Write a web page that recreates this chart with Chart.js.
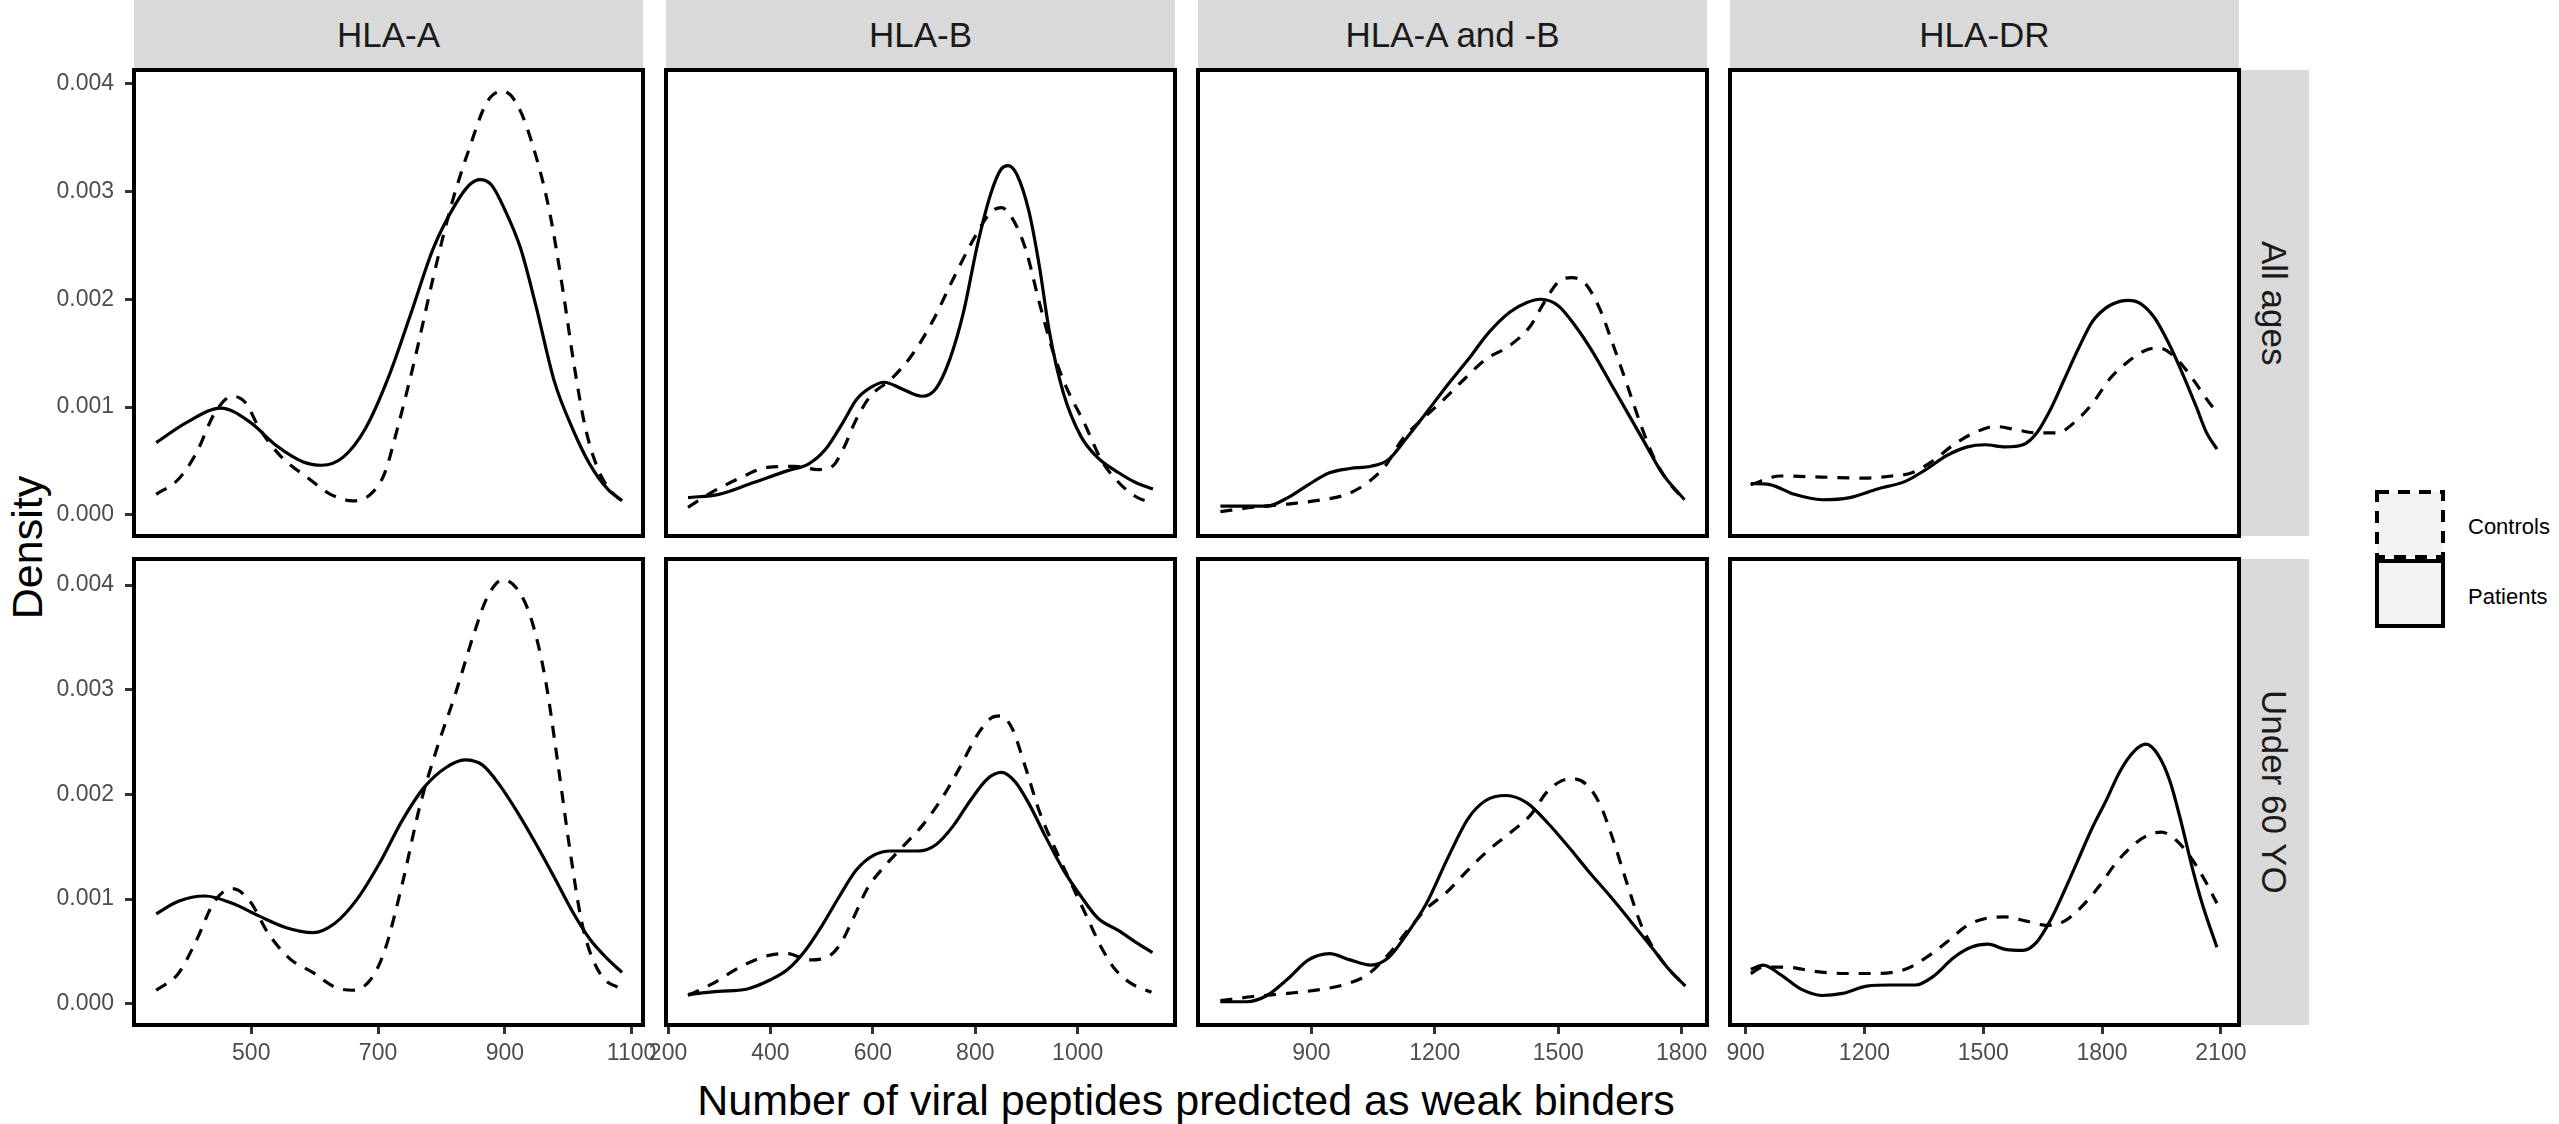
<!DOCTYPE html>
<html>
<head>
<meta charset="utf-8">
<title>Density of viral peptides predicted as weak binders</title>
<script src="https://cdn.jsdelivr.net/npm/chart.js@4.4.1/dist/chart.umd.min.js"></script>
<style>
  html, body { margin: 0; padding: 0; background: #ffffff; }
  #fig { position: relative; width: 2559px; height: 1124px; overflow: hidden; background: #ffffff;
         font-family: 'Liberation Sans', Arial, sans-serif; }
  #fig canvas { position: absolute; }
  .strip { position: absolute; background: #D9D9D9; color: #1A1A1A; font-size: 35px;
           display: flex; align-items: center; justify-content: center; white-space: nowrap; }
  .vt { writing-mode: vertical-rl; }
  .title { position: absolute; color: #000; font-size: 43px; line-height: 43px; white-space: nowrap; text-align: center; }
  .legtext { position: absolute; color: #000; font-size: 22px; line-height: 26px; white-space: nowrap; }
</style>
</head>
<body>
<div id="fig"></div>
<script>
// ---------------- DATA ----------------
const columns = ['HLA-A', 'HLA-B', 'HLA-A and -B', 'HLA-DR'];
const rows = ['All ages', 'Under 60 YO'];
const groups = ['Controls', 'Patients'];
const xTitle = 'Number of viral peptides predicted as weak binders';
const yTitle = 'Density';

const xTicks = [
  [500, 700, 900, 1100],
  [200, 400, 600, 800, 1000],
  [900, 1200, 1500, 1800],
  [900, 1200, 1500, 1800, 2100]
];
const yTicks = [0, 0.001, 0.002, 0.003, 0.004];

// HLA-A, All ages
const A_all_controls = [[350,0.00019],[385,0.00033],[413,0.00057],[442,0.00094],[470,0.0011],[491,0.00104],[512,0.00081],[547,0.00054],[590,0.00034],[625,0.00019],[660,0.00013],[688,0.00019],[710,0.00038],[731,0.00081],[759,0.00147],[787,0.0022],[815,0.00286],[844,0.0034],[872,0.00383],[897,0.00393],[921,0.00379],[949,0.00333],[971,0.0028],[992,0.00207],[1009,0.0014],[1027,0.00081],[1048,0.00041],[1069,0.00021],[1085,0.00013]];
const A_all_patients = [[350,0.00067],[399,0.00086],[452,0.00099],[498,0.00086],[540,0.00064],[582,0.00049],[611,0.00046],[646,0.00054],[681,0.00081],[716,0.00127],[752,0.00187],[787,0.00247],[822,0.00288],[844,0.00306],[861,0.00311],[879,0.00306],[900,0.00283],[925,0.00247],[949,0.00194],[978,0.00124],[1006,0.00081],[1034,0.00047],[1062,0.00024],[1085,0.00013]];
// HLA-A, Under 60 YO
const A_u60_controls = [[350,0.00013],[385,0.00029],[413,0.0006],[442,0.00098],[470,0.0011],[498,0.00098],[526,0.00068],[561,0.00043],[597,0.0003],[632,0.00016],[660,0.00013],[688,0.00023],[710,0.0005],[738,0.00114],[766,0.00189],[794,0.00246],[822,0.00296],[851,0.00353],[872,0.00388],[897,0.00405],[921,0.00395],[942,0.00367],[964,0.0031],[985,0.00224],[1002,0.0015],[1020,0.00082],[1034,0.0005],[1055,0.00025],[1085,0.00014]];
const A_u60_patients = [[350,0.00086],[385,0.00098],[427,0.00103],[470,0.00096],[512,0.00084],[554,0.00073],[597,0.00068],[632,0.00077],[667,0.001],[703,0.00135],[738,0.00175],[773,0.00207],[808,0.00226],[837,0.00233],[865,0.00228],[893,0.00208],[921,0.00182],[949,0.00153],[978,0.00121],[1006,0.00089],[1034,0.00062],[1062,0.00043],[1085,0.0003]];
// HLA-B, All ages
const B_all_controls = [[239,0.00007],[286,0.00021],[340,0.00034],[394,0.00044],[447,0.00045],[494,0.00042],[521,0.00045],[542,0.00061],[568,0.00089],[595,0.0011],[636,0.00126],[676,0.00148],[716,0.00179],[757,0.00219],[797,0.00256],[831,0.00281],[851,0.00285],[871,0.00276],[898,0.00247],[925,0.00197],[952,0.00151],[979,0.00117],[1012,0.00086],[1046,0.00051],[1080,0.0003],[1113,0.00017],[1144,0.00011]];
const B_all_patients = [[239,0.00016],[299,0.00019],[367,0.0003],[434,0.00041],[474,0.00047],[508,0.00061],[542,0.00086],[568,0.00107],[595,0.00118],[622,0.00123],[656,0.00117],[696,0.0011],[723,0.00117],[750,0.00144],[777,0.00188],[804,0.0025],[831,0.00299],[851,0.00321],[864,0.00324],[881,0.00316],[905,0.00281],[925,0.00231],[945,0.00169],[972,0.00113],[1006,0.00073],[1039,0.00053],[1080,0.00039],[1113,0.0003],[1147,0.00024]];
// HLA-B, Under 60 YO
const B_u60_controls = [[239,0.00008],[286,0.00019],[340,0.00035],[394,0.00046],[434,0.00048],[474,0.00042],[508,0.00044],[535,0.00056],[562,0.00082],[589,0.0011],[622,0.00131],[656,0.00149],[696,0.0017],[737,0.00198],[770,0.00226],[804,0.00257],[831,0.00273],[848,0.00275],[871,0.00264],[898,0.00226],[925,0.00184],[959,0.00145],[992,0.0011],[1019,0.00082],[1046,0.00054],[1073,0.00033],[1106,0.00019],[1144,0.00011]];
const B_u60_patients = [[239,0.00009],[299,0.00012],[353,0.00014],[400,0.00023],[434,0.00033],[468,0.00051],[501,0.00075],[535,0.00103],[568,0.00128],[602,0.00142],[636,0.00146],[689,0.00146],[723,0.00152],[757,0.0017],[790,0.00194],[824,0.00215],[851,0.00221],[878,0.00212],[905,0.00191],[938,0.00159],[972,0.00128],[1006,0.00103],[1039,0.00082],[1080,0.0007],[1113,0.00059],[1146,0.00049]];
// HLA-A and -B, All ages
const AB_all_controls = [[679,0.00003],[759,0.00007],[843,0.0001],[927,0.00014],[986,0.00019],[1037,0.0003],[1079,0.00045],[1121,0.0007],[1171,0.00089],[1222,0.00107],[1272,0.00126],[1323,0.00144],[1382,0.00157],[1432,0.00175],[1466,0.00197],[1500,0.00216],[1533,0.0022],[1567,0.00214],[1601,0.00191],[1634,0.00157],[1668,0.0012],[1702,0.00082],[1735,0.00051],[1769,0.0003],[1807,0.00014]];
const AB_all_patients = [[679,0.00008],[733,0.00008],[792,0.00008],[843,0.00016],[893,0.00028],[944,0.00039],[994,0.00043],[1045,0.00045],[1087,0.00051],[1129,0.0007],[1180,0.00095],[1230,0.0012],[1281,0.00144],[1331,0.00169],[1382,0.00188],[1424,0.00197],[1458,0.002],[1500,0.00194],[1542,0.00175],[1584,0.00151],[1626,0.00123],[1668,0.00095],[1710,0.00067],[1752,0.00039],[1807,0.00014]];
// HLA-A and -B, Under 60 YO
const AB_u60_controls = [[679,0.00003],[759,0.00007],[843,0.0001],[927,0.00014],[986,0.00019],[1037,0.00028],[1087,0.00047],[1138,0.00072],[1180,0.00091],[1230,0.00107],[1281,0.00128],[1331,0.00147],[1382,0.00163],[1432,0.0018],[1474,0.00203],[1508,0.00213],[1533,0.00215],[1567,0.0021],[1601,0.00191],[1634,0.00156],[1668,0.00114],[1702,0.00075],[1735,0.00051],[1769,0.00033],[1809,0.00017]];
const AB_u60_patients = [[679,0.00002],[742,0.00002],[792,0.00008],[843,0.00024],[893,0.00042],[944,0.00048],[994,0.00042],[1045,0.00037],[1087,0.00044],[1129,0.00065],[1180,0.00096],[1230,0.00138],[1281,0.00177],[1323,0.00194],[1373,0.00199],[1424,0.00192],[1474,0.00173],[1525,0.0015],[1575,0.00126],[1626,0.00103],[1676,0.00079],[1727,0.00054],[1769,0.00033],[1809,0.00017]];
// HLA-DR, All ages
const DR_all_controls = [[913,0.00028],[988,0.00036],[1093,0.00035],[1198,0.00034],[1268,0.00036],[1320,0.00039],[1373,0.0005],[1425,0.00065],[1477,0.00076],[1530,0.00082],[1582,0.00079],[1635,0.00076],[1687,0.00076],[1731,0.00086],[1775,0.00103],[1819,0.00126],[1862,0.00141],[1906,0.00152],[1941,0.00155],[1976,0.00149],[2011,0.00135],[2046,0.00117],[2077,0.00101],[2090,0.00096]];
const DR_all_patients = [[913,0.00029],[961,0.00028],[1023,0.00019],[1093,0.00014],[1163,0.00016],[1233,0.00024],[1303,0.00031],[1355,0.00042],[1408,0.00055],[1460,0.00063],[1504,0.00065],[1556,0.00063],[1600,0.00065],[1635,0.00076],[1670,0.00098],[1705,0.00126],[1740,0.00154],[1775,0.00179],[1810,0.00192],[1845,0.00198],[1867,0.00199],[1897,0.00196],[1932,0.00183],[1967,0.0016],[2002,0.00132],[2037,0.00101],[2064,0.00076],[2090,0.00061]];
// HLA-DR, Under 60 YO
const DR_u60_controls = [[913,0.00029],[944,0.00035],[1005,0.00035],[1075,0.00031],[1154,0.00029],[1233,0.00029],[1303,0.00033],[1355,0.00044],[1408,0.00059],[1460,0.00075],[1512,0.00082],[1556,0.00083],[1609,0.00079],[1661,0.00075],[1705,0.00079],[1749,0.00093],[1792,0.00112],[1836,0.00135],[1880,0.00152],[1915,0.00161],[1950,0.00164],[1985,0.00157],[2020,0.00142],[2055,0.00121],[2090,0.00096]];
const DR_u60_patients = [[913,0.00033],[944,0.00037],[988,0.00028],[1040,0.00014],[1093,0.00008],[1145,0.0001],[1206,0.00017],[1268,0.00018],[1329,0.00018],[1373,0.00026],[1425,0.00044],[1469,0.00054],[1512,0.00057],[1556,0.00052],[1600,0.00051],[1635,0.00059],[1670,0.0008],[1705,0.00108],[1740,0.00138],[1775,0.00168],[1810,0.00194],[1845,0.00222],[1880,0.00241],[1911,0.00248],[1941,0.00238],[1972,0.00212],[2002,0.0017],[2029,0.00128],[2055,0.00093],[2090,0.00054]];

// panel lookup [row][col] -> {Controls, Patients}
const panelData = [
  [ {Controls: A_all_controls, Patients: A_all_patients},
    {Controls: B_all_controls, Patients: B_all_patients},
    {Controls: AB_all_controls, Patients: AB_all_patients},
    {Controls: DR_all_controls, Patients: DR_all_patients} ],
  [ {Controls: A_u60_controls, Patients: A_u60_patients},
    {Controls: B_u60_controls, Patients: B_u60_patients},
    {Controls: AB_u60_controls, Patients: AB_u60_patients},
    {Controls: DR_u60_controls, Patients: DR_u60_patients} ]
];

// ---------------- LAYOUT / STYLE ----------------
const colLeft = [134, 666, 1198, 1730];
const panelW = 509;
const rowTop = [70, 559];
const panelH = 466;
const stripSize = 70;
const PAD = 40;      // invisible margin around each panel canvas
const YAXIS_W = 134; // width reserved for the y axis in the first column
const XAXIS_H = 52;  // height reserved for the x axis in the bottom row
const xRange = [[315, 1118], [196, 1190], [624.5, 1861.6], [860.6, 2145.7]];
const yRange = [[-0.0001965, 0.0041265], [-0.000202, 0.004249]];
const FONT = "'Liberation Sans', Arial, sans-serif";

const fig = document.getElementById('fig');

function addDiv(cls, text, css) {
  const d = document.createElement('div');
  d.className = cls;
  if (text !== null) d.textContent = text;
  Object.assign(d.style, css);
  fig.appendChild(d);
  return d;
}

// strips
columns.forEach((name, c) => {
  addDiv('strip', name, {left: colLeft[c] + 'px', top: '0px', width: panelW + 'px', height: stripSize + 'px'});
});
rows.forEach((name, r) => {
  const s = addDiv('strip', null, {left: (colLeft[3] + panelW) + 'px', top: rowTop[r] + 'px', width: stripSize + 'px', height: panelH + 'px'});
  const sp = document.createElement('span');
  sp.className = 'vt';
  sp.textContent = name;
  s.appendChild(sp);
});

// axis titles
addDiv('title', xTitle, {left: (1186 - 700) + 'px', width: '1400px', top: '1079px'});
addDiv('title', yTitle, {left: (27 - 150) + 'px', width: '300px', top: (547 - 21.5) + 'px', transform: 'rotate(-90deg)'});

// legend
const svgNS = 'http://www.w3.org/2000/svg';
const svg = document.createElementNS(svgNS, 'svg');
svg.setAttribute('width', '80');
svg.setAttribute('height', '150');
Object.assign(svg.style, {position: 'absolute', left: '2370px', top: '485px'});
groups.forEach((g, i) => {
  const rect = document.createElementNS(svgNS, 'rect');
  rect.setAttribute('x', '7');
  rect.setAttribute('y', String(7 + i * 69));
  rect.setAttribute('width', '66');
  rect.setAttribute('height', '65');
  rect.setAttribute('fill', '#F2F2F2');
  rect.setAttribute('stroke', '#000');
  rect.setAttribute('stroke-width', '4');
  if (g === 'Controls') rect.setAttribute('stroke-dasharray', '12 9');
  svg.appendChild(rect);
  addDiv('legtext', g, {left: '2468px', top: (527 - 13 + i * 70) + 'px'});
});
fig.appendChild(svg);

// panel border plugin
const panelBox = {
  id: 'panelBox',
  afterDraw(chart) {
    const a = chart.chartArea, ctx = chart.ctx;
    ctx.save();
    ctx.setLineDash([]);
    ctx.strokeStyle = '#000';
    ctx.lineWidth = 4;
    ctx.strokeRect(a.left, a.top, a.right - a.left, a.bottom - a.top);
    ctx.restore();
  }
};

// build the 8 panels
rows.forEach((rowName, r) => {
  columns.forEach((colName, c) => {
    const showY = c === 0;
    const showX = r === rows.length - 1;
    const leftExt = showY ? YAXIS_W : PAD;
    const bottomExt = showX ? XAXIS_H : PAD;
    const w = leftExt + panelW + PAD;
    const h = PAD + panelH + bottomExt;
    const cv = document.createElement('canvas');
    cv.width = w; cv.height = h;
    cv.style.width = w + 'px'; cv.style.height = h + 'px';
    cv.style.left = (colLeft[c] - leftExt) + 'px';
    cv.style.top = (rowTop[r] - PAD) + 'px';
    fig.appendChild(cv);

    const pd = panelData[r][c];
    const datasets = groups.map(g => ({
      label: g,
      data: pd[g].map(p => ({x: p[0], y: p[1]})),
      borderColor: '#000000',
      borderWidth: 3.2,
      borderDash: g === 'Controls' ? [12, 10] : [],
      borderCapStyle: 'butt',
      pointRadius: 0,
      fill: false,
      cubicInterpolationMode: 'monotone'
    }));

    new Chart(cv, {
      type: 'line',
      data: {datasets},
      options: {
        responsive: false,
        animation: false,
        devicePixelRatio: 1,
        layout: {padding: {left: showY ? 0 : PAD, right: PAD, top: PAD, bottom: showX ? 0 : PAD}},
        plugins: {legend: {display: false}, tooltip: {enabled: false}},
        scales: {
          x: {
            type: 'linear',
            min: xRange[c][0], max: xRange[c][1],
            display: showX,
            afterFit: s => { s.height = showX ? XAXIS_H : 0; },
            afterBuildTicks: s => { s.ticks = xTicks[c].map(v => ({value: v})); },
            border: {display: false},
            grid: {display: true, drawOnChartArea: false, drawTicks: true, tickLength: 9, tickWidth: 3, tickColor: '#333333'},
            ticks: {autoSkip: false, maxRotation: 0, padding: 6, color: '#4D4D4D',
                    font: {family: FONT, size: 23}, callback: v => String(v)}
          },
          y: {
            type: 'linear',
            min: yRange[r][0], max: yRange[r][1],
            display: showY,
            afterFit: s => { s.width = showY ? YAXIS_W : 0; },
            afterBuildTicks: s => { s.ticks = yTicks.map(v => ({value: v})); },
            border: {display: false},
            grid: {display: true, drawOnChartArea: false, drawTicks: true, tickLength: 9, tickWidth: 3, tickColor: '#333333'},
            ticks: {autoSkip: false, padding: 11, color: '#4D4D4D',
                    font: {family: FONT, size: 23}, callback: v => v.toFixed(3)}
          }
        }
      },
      plugins: [panelBox]
    });
  });
});
</script>
</body>
</html>
